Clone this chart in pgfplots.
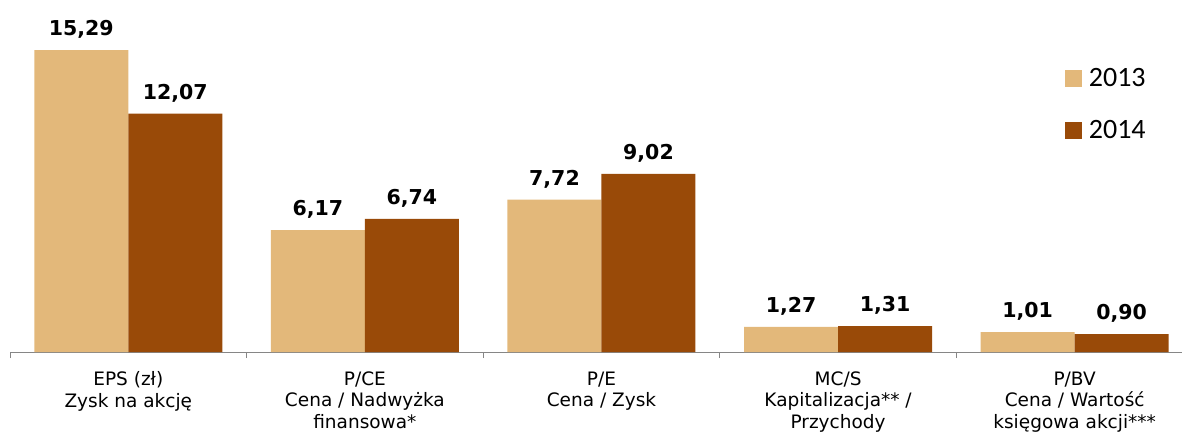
\documentclass[border=0pt]{standalone}
\usepackage{pgfplots}
\pgfplotsset{compat=1.18}
\usepackage{fontspec}
\setmainfont{DejaVu Sans}
\newfontfamily\legfont{Carlito}
\definecolor{tanc}{RGB}{227,184,122}
\definecolor{brnc}{RGB}{153,74,8}
\definecolor{axgray}{RGB}{134,134,134}
\begin{document}
\begin{tikzpicture}
\path[use as bounding box] (0,0) rectangle (1182pt,432pt);
\begin{axis}[
  at={(10pt,80pt)}, anchor=south west,
  width=1183pt, height=316pt, scale only axis,
  xmin=-0.5, xmax=4.5, ymin=0, ymax=16,
  clip=false,
  ybar=0pt, bar width=94pt,
  hide y axis,
  axis x line*=bottom,
  x axis line style={axgray, line width=1pt, -},
  xtick={0,...,4},
  xticklabels={{EPS (zł)\\Zysk na akcję},{P/CE\\Cena / Nadwyżka\\finansowa*},{P/E\\Cena / Zysk},{MC/S\\Kapitalizacja** /\\Przychody},{P/BV\\Cena / Wartość\\księgowa akcji***}},
  major tick length=0pt,
  minor xtick={-0.5,0.5,...,4.5},
  minor tick length=6pt,
  xtick align=outside,
  every minor tick/.style={axgray, line width=1pt},
  xticklabel style={font=\fontsize{18.5}{21.5}\selectfont, align=center, yshift=-16pt},
  nodes near coords,
  every node near coord/.append style={font=\bfseries\fontsize{20.5}{24}\selectfont, yshift=8pt, black},
  /pgf/number format/.cd, use comma, fixed, fixed zerofill, precision=2, assume math mode=true,
  /pgfplots/.cd,
  legend style={legend cell align=left, draw=none, fill=none, font=\legfont\fontsize{28}{32}\selectfont, at={(0.889,0.91)}, anchor=north west, row sep=28pt},
  legend image code/.code={\fill[#1] (0pt,-8.5pt) rectangle (17pt,8.5pt); \path (22pt,0pt);},
]
\addplot[fill=tanc, draw=none] coordinates {(0,15.29) (1,6.17) (2,7.72) (3,1.27) (4,1.01)};
\addplot[fill=brnc, draw=none] coordinates {(0,12.07) (1,6.74) (2,9.02) (3,1.31) (4,0.90)};
\legend{2013,2014}
\end{axis}
\end{tikzpicture}
\end{document}
